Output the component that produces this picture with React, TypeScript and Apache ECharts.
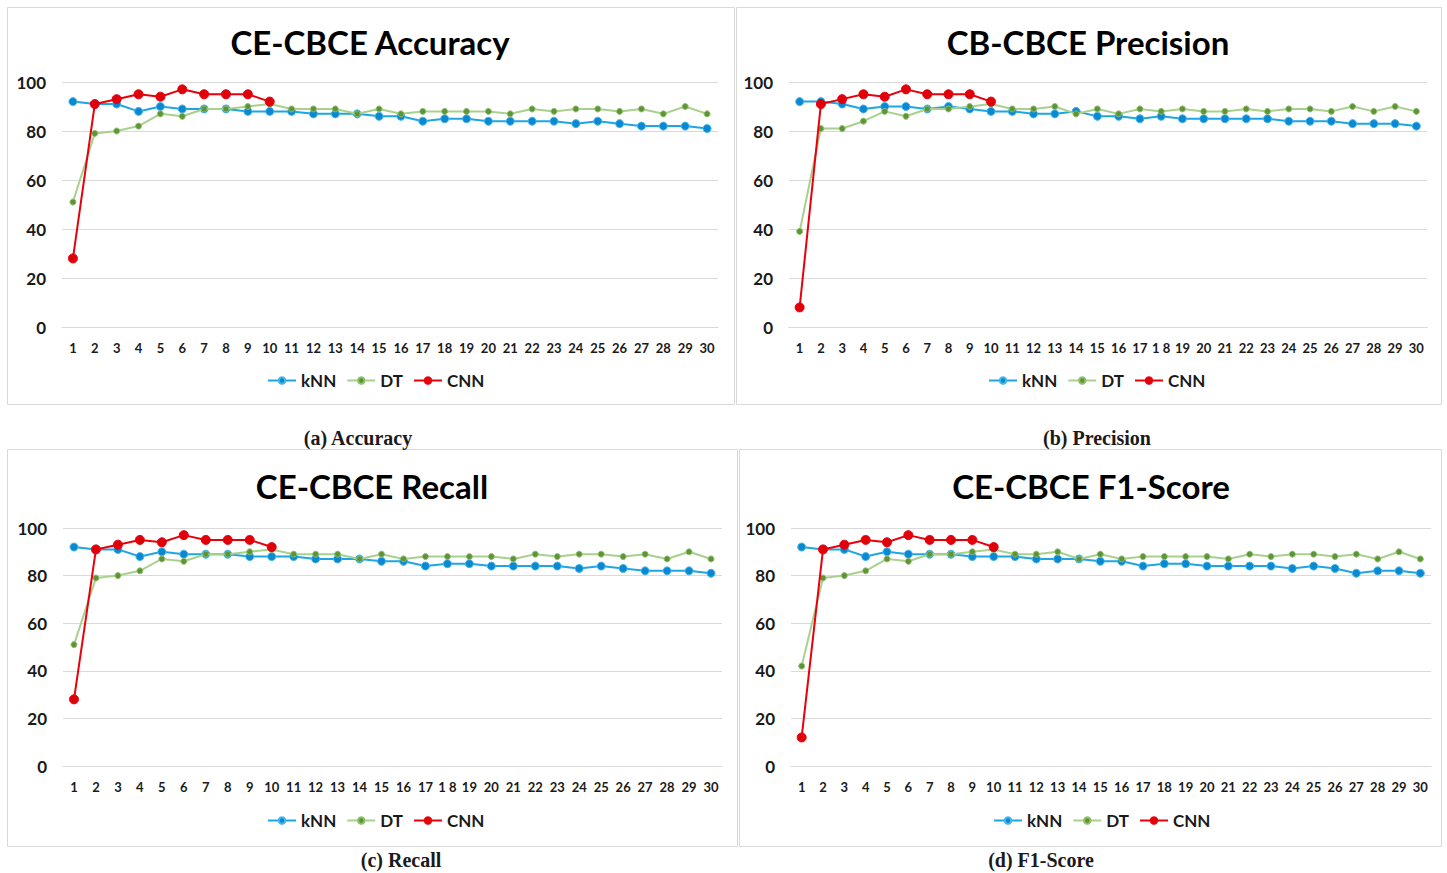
import React, { useEffect, useRef } from "react";
import * as echarts from "echarts";

const categoriesStd = Array.from({ length: 30 }, (_, i) => String(i + 1));
// panels (b) and (c) print "1 8" instead of "18"
const categoriesAlt = categoriesStd.map((c) => (c === "18" ? "1 8" : c));
const yTicks = [0, 20, 40, 60, 80, 100];

const seriesNames = ["kNN", "DT", "CNN"];

// (a) Accuracy
const accKnn = [92, 91, 91, 88, 90, 89, 89, 89, 88, 88, 88, 87, 87, 87, 86, 86, 84, 85, 85, 84, 84, 84, 84, 83, 84, 83, 82, 82, 82, 81];
const accDt = [51, 79, 80, 82, 87, 86, 89, 89, 90, 91, 89, 89, 89, 87, 89, 87, 88, 88, 88, 88, 87, 89, 88, 89, 89, 88, 89, 87, 90, 87];
const accCnn = [28, 91, 93, 95, 94, 97, 95, 95, 95, 92];

// (b) Precision
const preKnn = [92, 92, 91, 89, 90, 90, 89, 90, 89, 88, 88, 87, 87, 88, 86, 86, 85, 86, 85, 85, 85, 85, 85, 84, 84, 84, 83, 83, 83, 82];
const preDt = [39, 81, 81, 84, 88, 86, 89, 89, 90, 91, 89, 89, 90, 87, 89, 87, 89, 88, 89, 88, 88, 89, 88, 89, 89, 88, 90, 88, 90, 88];
const preCnn = [8, 91, 93, 95, 94, 97, 95, 95, 95, 92];

// (c) Recall
const recKnn = [92, 91, 91, 88, 90, 89, 89, 89, 88, 88, 88, 87, 87, 87, 86, 86, 84, 85, 85, 84, 84, 84, 84, 83, 84, 83, 82, 82, 82, 81];
const recDt = [51, 79, 80, 82, 87, 86, 89, 89, 90, 91, 89, 89, 89, 87, 89, 87, 88, 88, 88, 88, 87, 89, 88, 89, 89, 88, 89, 87, 90, 87];
const recCnn = [28, 91, 93, 95, 94, 97, 95, 95, 95, 92];

// (d) F1-Score
const f1Knn = [92, 91, 91, 88, 90, 89, 89, 89, 88, 88, 88, 87, 87, 87, 86, 86, 84, 85, 85, 84, 84, 84, 84, 83, 84, 83, 81, 82, 82, 81];
const f1Dt = [42, 79, 80, 82, 87, 86, 89, 89, 90, 91, 89, 89, 90, 87, 89, 87, 88, 88, 88, 88, 87, 89, 88, 89, 89, 88, 89, 87, 90, 87];
const f1Cnn = [12, 91, 93, 95, 94, 97, 95, 95, 95, 92];

const panelTitles = ["CE-CBCE Accuracy", "CB-CBCE Precision", "CE-CBCE Recall", "CE-CBCE F1-Score"];
const captions = ["(a) Accuracy", "(b) Precision", "(c) Recall", "(d) F1-Score"];

const FONT = "Lato, 'Open Sans', sans-serif";

export default function App() {
  const ref = useRef<HTMLDivElement>(null);

  useEffect(() => {
    if (!ref.current) return;
    const chart = echarts.init(ref.current, null, { renderer: "svg" });

    const panels = [
      { cats: categoriesStd, data: [accKnn, accDt, accCnn], grid: { left: 62, top: 82, width: 656, height: 245 }, box: [7, 7, 727, 397], titleXY: [370, 42], legendLeft: 262, legendTop: 367, caption: [358, 438] },
      { cats: categoriesAlt, data: [preKnn, preDt, preCnn], grid: { left: 789, top: 82, width: 638, height: 245 }, box: [736, 7, 705, 397], titleXY: [1088, 42], legendLeft: 983, legendTop: 367, caption: [1097, 438] },
      { cats: categoriesAlt, data: [recKnn, recDt, recCnn], grid: { left: 63, top: 528, width: 659, height: 238 }, box: [7, 449, 730, 397], titleXY: [372, 486], legendLeft: 262, legendTop: 807, caption: [401, 860] },
      { cats: categoriesStd, data: [f1Knn, f1Dt, f1Cnn], grid: { left: 791, top: 528, width: 640, height: 238 }, box: [739, 449, 702, 397], titleXY: [1091, 486], legendLeft: 988, legendTop: 807, caption: [1041, 860] },
    ];

    const styles = [
      { line: "#1ea6e4", marker: "#0b88d2", border: "#41b6ea", size: 8, width: 2 },
      { line: "#a9d18e", marker: "#5e9437", border: "#8cc06a", size: 6, width: 2 },
      { line: "#e8000b", marker: "#e0000a", border: "#e8000b", size: 9, width: 2 },
    ];

    const grids: any[] = [];
    const xAxes: any[] = [];
    const yAxes: any[] = [];
    const series: any[] = [];
    const legends: any[] = [];
    const graphics: any[] = [];

    panels.forEach((p, i) => {
      grids.push({ ...p.grid, containLabel: false });
      xAxes.push({
        type: "category",
        gridIndex: i,
        data: p.cats,
        boundaryGap: true,
        axisLine: { show: true, lineStyle: { color: "#d9d9d9", width: 1 } },
        axisTick: { show: false },
        axisLabel: { interval: 0, margin: 14, fontFamily: FONT, fontWeight: "bold", fontSize: 13, color: "#1a1a1a" },
      });
      yAxes.push({
        type: "value",
        gridIndex: i,
        min: yTicks[0],
        max: yTicks[yTicks.length - 1],
        interval: 20,
        axisLine: { show: false },
        axisTick: { show: false },
        splitLine: { lineStyle: { color: "#d9d9d9", width: 1 } },
        axisLabel: { margin: 16, fontFamily: FONT, fontWeight: "bold", fontSize: 17, color: "#1a1a1a" },
      });
      p.data.forEach((d, k) => {
        const s = styles[k];
        series.push({
          name: seriesNames[k],
          type: "line",
          xAxisIndex: i,
          yAxisIndex: i,
          data: d,
          symbol: "circle",
          symbolSize: s.size,
          lineStyle: { color: s.line, width: s.width },
          itemStyle: { color: s.marker, borderColor: s.border, borderWidth: 1 },
          z: 2 + k,
        });
      });
      legends.push({
        data: seriesNames,
        left: p.legendLeft,
        top: p.legendTop,
        itemWidth: 28,
        itemHeight: 8,
        itemGap: 10,
        textStyle: { fontFamily: FONT, fontWeight: "bold", fontSize: 17, color: "#1a1a1a" },
      });
      graphics.push({
        type: "rect",
        shape: { x: p.box[0] + 0.5, y: p.box[1] + 0.5, width: p.box[2], height: p.box[3] },
        style: { fill: "none", stroke: "#d9d9d9", lineWidth: 1 },
        z: -1,
      });
      graphics.push({
        type: "text",
        x: p.titleXY[0],
        y: p.titleXY[1],
        style: {
          text: panelTitles[i],
          textAlign: "center",
          textVerticalAlign: "middle",
          fontFamily: FONT,
          fontWeight: "bold",
          fontSize: 33,
          fill: "#000",
        },
      });
      graphics.push({
        type: "text",
        x: p.caption[0],
        y: p.caption[1],
        style: {
          text: captions[i],
          textAlign: "center",
          textVerticalAlign: "middle",
          fontFamily: "'Liberation Serif', 'DejaVu Serif', serif",
          fontWeight: "bold",
          fontSize: 20,
          fill: "#1a1a1a",
        },
      });
    });

    chart.setOption({
      animation: false,
      backgroundColor: "#ffffff",
      grid: grids,
      xAxis: xAxes,
      yAxis: yAxes,
      legend: legends,
      series,
      graphic: graphics,
    });

    return () => chart.dispose();
  }, []);

  return (
    <div
      ref={ref}
      style={{ position: "absolute", left: 0, top: 0, width: 1447, height: 873, background: "#fff" }}
    />
  );
}
